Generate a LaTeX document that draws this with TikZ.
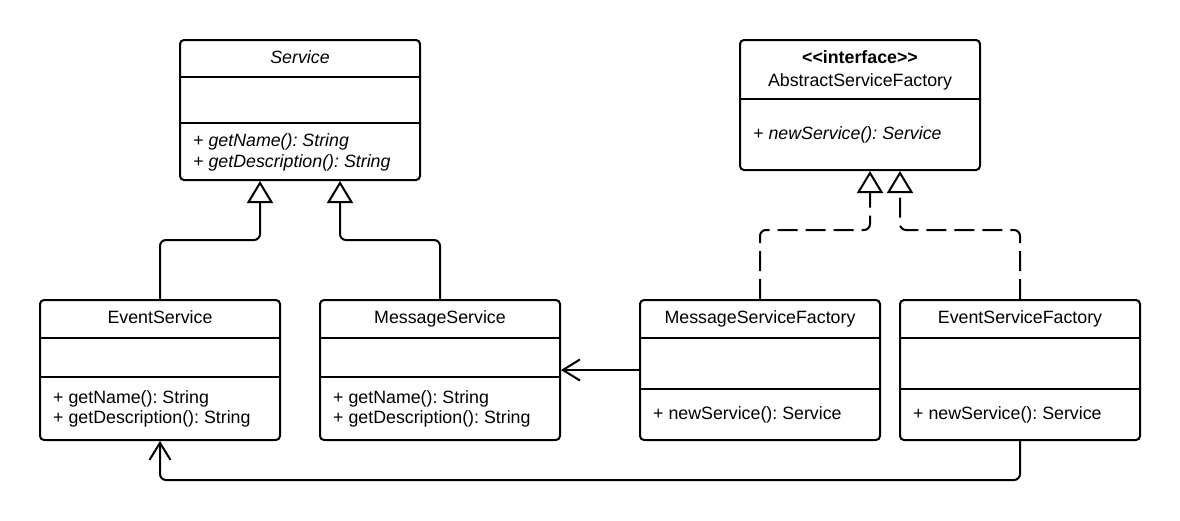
\documentclass[tikz,border=0pt]{standalone}
\usepackage{fontspec}
\setmainfont{Liberation Sans}
\usetikzlibrary{arrows.meta}
\frenchspacing
\begin{document}
\begin{tikzpicture}[x=1pt,y=-1pt,
  box/.style={draw, line width=2pt, rounded corners=4pt, inner sep=0pt},
  sepline/.style={line width=2pt},
  lbl/.style={inner sep=0pt, font=\fontsize{17.8}{21}\selectfont\frenchspacing},
  inh/.style={line width=2pt, rounded corners=6pt, -{Triangle[open, length=22pt, width=26pt]}},
  real/.style={inh, dash pattern=on 20pt off 8pt},
  assoc/.style={line width=2pt, rounded corners=6pt, -{Straight Barb[length=17pt, width=21pt]}}
]
\fill[white] (0,0) rectangle (1180,520);
\useasboundingbox (0,0) rectangle (1180,520);

% boxes
\node[box, minimum width=240pt, minimum height=140pt] (service) at (300,110) {};
\node[box, minimum width=240pt, minimum height=130pt] (abs) at (860,105) {};
\node[box, minimum width=240pt, minimum height=140pt] (es) at (160,370) {};
\node[box, minimum width=240pt, minimum height=140pt] (ms) at (440,370) {};
\node[box, minimum width=240pt, minimum height=140pt] (msf) at (760,370) {};
\node[box, minimum width=240pt, minimum height=140pt] (esf) at (1020,370) {};

% compartment lines
\draw[sepline] (service.west |- 0,77) -- (service.east |- 0,77);
\draw[sepline] (service.west |- 0,123) -- (service.east |- 0,123);
\draw[sepline] (abs.west |- 0,99) -- (abs.east |- 0,99);
\draw[sepline] (es.west |- 0,338) -- (es.east |- 0,338);
\draw[sepline] (es.west |- 0,377) -- (es.east |- 0,377);
\draw[sepline] (ms.west |- 0,338) -- (ms.east |- 0,338);
\draw[sepline] (ms.west |- 0,377) -- (ms.east |- 0,377);
\draw[sepline] (msf.west |- 0,338) -- (msf.east |- 0,338);
\draw[sepline] (msf.west |- 0,389) -- (msf.east |- 0,389);
\draw[sepline] (esf.west |- 0,338) -- (esf.east |- 0,338);
\draw[sepline] (esf.west |- 0,389) -- (esf.east |- 0,389);

% texts
\node[lbl, anchor=base] (t1) at (300,63) {\itshape Service};
\node[lbl, anchor=base west] (t2) at (193,146) {\itshape + getName(): String};
\node[lbl, anchor=base west] (t3) at (193,167) {\itshape + getDescription(): String};

\node[lbl, anchor=base] (t4) at (860,63) {\bfseries <\kern0pt<interface>\kern0pt>};
\node[lbl, anchor=base] (t5) at (860,86) {AbstractServiceFactory};
\node[lbl, anchor=base west] (t6) at (753,139) {\itshape + newService(): Service};

\node[lbl, anchor=base] (t7) at (160,323) {EventService};
\node[lbl, anchor=base west] (t8) at (53,403) {+ getName(): String};
\node[lbl, anchor=base west] (t9) at (53,423) {+ getDescription(): String};

\node[lbl, anchor=base] (t10) at (440,323) {MessageService};
\node[lbl, anchor=base west] (t11) at (333,403) {+ getName(): String};
\node[lbl, anchor=base west] (t12) at (333,423) {+ getDescription(): String};

\node[lbl, anchor=base] (t13) at (760,323) {MessageServiceFactory};
\node[lbl, anchor=base west] (t14) at (653,419) {+ newService(): Service};

\node[lbl, anchor=base] (t15) at (1020,323) {EventServiceFactory};
\node[lbl, anchor=base west] (t16) at (913,419) {+ newService(): Service};

% bend points
\coordinate (j1) at (260,240);
\coordinate (j2) at (340,240);
\coordinate (j3) at (870,230);
\coordinate (j4) at (900,230);
\coordinate (j5) at (160,480);

% connectors
\draw[inh] (es.north) |- (j1) -- (service.south -| j1);
\draw[inh] (ms.north) |- (j2) -- (service.south -| j2);
\draw[real] (msf.north) |- (j3) -- (abs.south -| j3);
\draw[real] (esf.north) |- (j4) -- (abs.south -| j4);
\draw[assoc] (msf.west) -- (ms.east);
\draw[assoc] (esf.south) |- (j5) -- (es.south);
\end{tikzpicture}
\end{document}
